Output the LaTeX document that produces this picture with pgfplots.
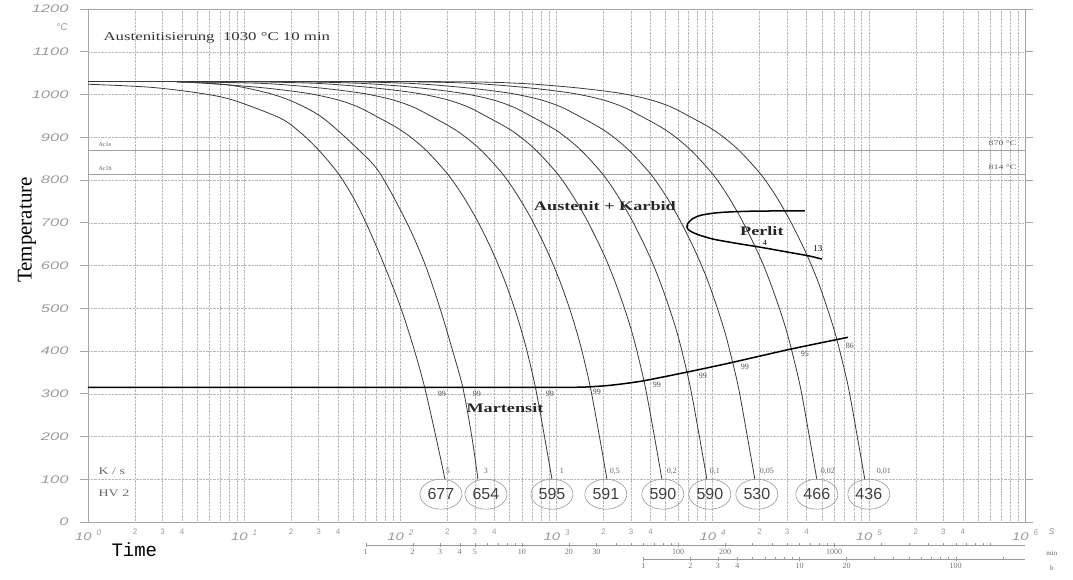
\documentclass[border=0pt]{standalone}
\usepackage{fontspec}
\setmainfont{Liberation Serif}
\setsansfont{Liberation Sans}
\setmonofont{Liberation Mono}
\usepackage{graphicx}
\usepackage{pgfplots}
\pgfplotsset{compat=1.18}
\usetikzlibrary{shapes.geometric}
\definecolor{curve}{HTML}{3A3A3A}
\definecolor{tl}{HTML}{9A9A9A}
\newcommand{\xt}[1]{\scalebox{1.35}[1]{\textit{10}}\hspace{5pt}\raisebox{5pt}{\fontsize{8}{9}\selectfont\textit{#1}}}
\newcommand{\st}[1]{\scalebox{1.4}[1]{#1}}
\begin{document}
\begin{tikzpicture}
\useasboundingbox (-88pt,-58pt) rectangle (985pt,522pt);
\begin{axis}[
 at={(0pt,0pt)}, anchor=south west,
 scale only axis, width=937pt, height=513pt,
 xmin=0, xmax=6, ymin=0, ymax=1200,
 clip=false,
 xtick={0,1,2,3,4,5,6},
 xticklabels={\xt{0},\xt{1},\xt{2},\xt{3},\xt{4},\xt{5},\xt{6}},
 minor xtick={0.30103,0.47712,0.60206,0.69897,0.77815,0.84510,0.90309,0.95424,
 1.30103,1.47712,1.60206,1.69897,1.77815,1.84510,1.90309,1.95424,
 2.30103,2.47712,2.60206,2.69897,2.77815,2.84510,2.90309,2.95424,
 3.30103,3.47712,3.60206,3.69897,3.77815,3.84510,3.90309,3.95424,
 4.30103,4.47712,4.60206,4.69897,4.77815,4.84510,4.90309,4.95424,
 5.30103,5.47712,5.60206,5.69897,5.77815,5.84510,5.90309,5.95424},
 ytick={0,100,...,1200},
 yticklabel={\scalebox{1.5}[1]{\pgfmathparse{int(\tick)}\pgfmathresult}},
 grid=both,
 major grid style={densely dotted, gray!55},
 minor grid style={densely dotted, gray!55},
 axis line style={gray!70, line width=0.9pt},
 xtick style={draw=none},
 ytick style={gray!70, line width=0.8pt},
 ytick align=outside, xtick align=inside,
 major tick length=8pt,
 ticklabel style={font=\sffamily\itshape\fontsize{11}{12}\selectfont, text=tl},
 xticklabel style={yshift=-4pt},
 yticklabel style={xshift=-8pt},
 extra x ticks={0.30103,0.47712,0.60206,1.30103,1.47712,1.60206,2.30103,2.47712,2.60206,3.30103,3.47712,3.60206,4.30103,4.47712,4.60206,5.30103,5.47712,5.60206},
 extra x tick labels={2,3,4,2,3,4,2,3,4,2,3,4,2,3,4,2,3,4},
 extra x tick style={grid=none, xticklabel style={font=\sffamily\fontsize{8}{9}\selectfont, yshift=1pt}},
 ylabel={\fontsize{21}{24}\selectfont Temperature},
 every axis y label/.style={at={(axis description cs:-0.065,0.569)}, rotate=90, anchor=center},
]
% Ac lines
\addplot[gray!75, line width=0.8pt] coordinates {(0,870) (6,870)};
\addplot[gray!75, line width=0.8pt] coordinates {(0,814) (6,814)};
% austenitizing
\addplot[curve, line width=0.6pt] coordinates {(0,1030) (0.570,1030)};
% cooling curves
\addplot[curve, line width=0.8pt, smooth, tension=0.5] coordinates {(0,1024) (0.397,1017) (0.717,1003) (0.928,987) (1.229,945) (1.357,912) (1.472,872) (1.601,816) (1.697,760) (1.780,700) (1.889,608) (2.004,500) (2.093,398) (2.157,313) (2.228,199) (2.286,100)};
\addplot[curve, line width=0.8pt, smooth, tension=0.5] coordinates {(0.570,1030) (0.909,1022) (1.229,995) (1.485,950) (1.729,872) (1.869,816) (2.042,700) (2.158,603) (2.254,500) (2.337,398) (2.401,313) (2.458,199) (2.497,100)};
\addplot[curve, line width=0.8pt, smooth, tension=0.5] coordinates {(0.570,1030) (0.762,1026) (1.114,1016) (1.402,1003) (1.594,988) (1.722,972) (1.831,952) (2.010,915) (2.158,872) (2.298,816) (2.388,770) (2.478,715) (2.555,660) (2.615,612) (2.673,560) (2.731,500) (2.775,448) (2.811,400) (2.865,315) (2.923,200) (2.971,100)};
\addplot[curve, line width=0.8pt, smooth, tension=0.5] coordinates {(0.570,1030) (1.114,1026) (1.466,1016) (1.754,1003) (1.946,988) (2.074,972) (2.183,952) (2.362,915) (2.510,872) (2.651,816) (2.740,770) (2.830,715) (2.907,660) (2.967,612) (3.025,560) (3.083,500) (3.127,448) (3.163,400) (3.217,315) (3.275,200) (3.323,100)};
\addplot[curve, line width=0.8pt, smooth, tension=0.5] coordinates {(0.570,1030) (0.986,1030) (1.466,1026) (1.818,1016) (2.106,1003) (2.298,988) (2.426,972) (2.535,952) (2.715,915) (2.862,872) (3.003,816) (3.092,770) (3.182,715) (3.259,660) (3.320,612) (3.377,560) (3.435,500) (3.480,448) (3.515,400) (3.569,315) (3.627,200) (3.675,100)};
\addplot[curve, line width=0.8pt, smooth, tension=0.5] coordinates {(0.570,1030) (1.274,1030) (1.754,1026) (2.106,1016) (2.394,1003) (2.587,988) (2.715,972) (2.823,952) (3.003,915) (3.150,872) (3.291,816) (3.380,770) (3.470,715) (3.547,660) (3.608,612) (3.665,560) (3.723,500) (3.768,448) (3.803,400) (3.857,315) (3.915,200) (3.963,100)};
\addplot[curve, line width=0.8pt, smooth, tension=0.5] coordinates {(0.570,1030) (1.581,1030) (2.062,1026) (2.414,1016) (2.702,1003) (2.894,988) (3.022,972) (3.131,952) (3.310,915) (3.457,872) (3.598,816) (3.688,770) (3.777,715) (3.854,660) (3.915,612) (3.973,560) (4.030,500) (4.075,448) (4.110,400) (4.165,315) (4.222,200) (4.270,100)};
\addplot[curve, line width=0.8pt, smooth, tension=0.5] coordinates {(0.570,1030) (1.978,1030) (2.458,1026) (2.811,1016) (3.099,1003) (3.291,988) (3.419,972) (3.528,952) (3.707,915) (3.854,872) (3.995,816) (4.085,770) (4.174,715) (4.251,660) (4.312,612) (4.369,560) (4.427,500) (4.472,448) (4.507,400) (4.562,315) (4.619,200) (4.667,100)};
\addplot[curve, line width=0.8pt, smooth, tension=0.5] coordinates {(0.570,1030) (2.286,1030) (2.766,1026) (3.118,1016) (3.406,1003) (3.598,988) (3.726,972) (3.835,952) (4.014,915) (4.161,872) (4.302,816) (4.392,770) (4.481,715) (4.558,660) (4.619,612) (4.677,560) (4.734,500) (4.779,448) (4.814,400) (4.869,315) (4.926,200) (4.974,100)};
% Martensite start
\addplot[black, line width=1.5pt, smooth, tension=0.4] coordinates {(0,315) (1.5,315) (2.9,315) (3.169,315.5) (3.35,320) (3.553,330) (3.854,352) (4.11,372) (4.494,404) (4.866,432)};
% Perlite
\addplot[black, line width=1.5pt, smooth, tension=0.5] coordinates {(4.590,728) (4.250,727) (4.050,724) (3.930,718) (3.870,709) (3.840,698) (3.835,690) (3.850,682) (3.900,673) (4.000,662) (4.150,652) (4.302,643) (4.470,632) (4.622,622) (4.699,615)};
% hardness ellipses
\addplot[only marks, mark=none, point meta=explicit symbolic, nodes near coords,
  every node near coord/.append style={ellipse, draw=gray!80, line width=0.6pt, minimum width=42pt, minimum height=30pt, inner sep=0pt, font=\sffamily\fontsize{16}{17}\selectfont, text=black!75, anchor=center}]
 table[meta=hv] {
L T hv
2.260 65 677
2.548 65 654
2.971 65 595
3.316 65 591
3.681 65 590
3.982 65 590
4.283 65 530
4.667 65 466
5.000 65 436
};
% cooling rates
\addplot[only marks, mark=none, point meta=explicit symbolic, nodes near coords,
  every node near coord/.append style={font=\fontsize{8}{9}\selectfont, text=black!60, anchor=center}]
 table[meta=r] {
L T r
2.305 119 5
2.548 119 3
3.035 119 1
3.374 119 0,5
3.739 119 0,2
4.014 119 0,1
4.347 119 0,05
4.738 119 0,02
5.096 119 0,01
};
% martensite fractions
\addplot[only marks, mark=none, point meta=explicit symbolic, nodes near coords,
  every node near coord/.append style={font=\fontsize{8}{9}\selectfont, text=black!70, anchor=center}]
 table[meta=m] {
L T m
2.266 299 99
2.490 299 99
2.958 299 99
3.259 304 99
3.643 320 99
3.937 342 99
4.206 363 99
4.590 393 95
4.878 412 86
};
\node[anchor=west, font=\fontsize{12}{14}\selectfont, text=black!80] at (axis cs:0.077,1132) {\st{Austenitisierung\ \ 1030 °C 10 min}};
\node[font=\bfseries\fontsize{13}{15}\selectfont, text=black!85] at (axis cs:3.310,739) {\st{Austenit + Karbid}};
\node[font=\bfseries\fontsize{13}{15}\selectfont, text=black!85] at (axis cs:4.315,681) {\st{Perlit}};
\node[font=\bfseries\fontsize{13}{15}\selectfont, text=black!85] at (axis cs:2.670,267) {\st{Martensit}};
\node[font=\fontsize{8}{9}\selectfont] at (axis cs:4.334,653) {4};
\node[font=\fontsize{9}{10}\selectfont] at (axis cs:4.674,639) {13};
\node[anchor=west, font=\fontsize{6}{7}\selectfont, text=black!65] at (axis cs:0.045,882) {Ac1e};
\node[anchor=west, font=\fontsize{6}{7}\selectfont, text=black!65] at (axis cs:0.045,828) {Ac1b};
\node[anchor=east, font=\fontsize{7}{8}\selectfont, text=black!65] at (axis cs:5.967,887) {\st{870 °C}};
\node[anchor=east, font=\fontsize{7}{8}\selectfont, text=black!65] at (axis cs:5.967,830) {\st{814 °C}};
\node[anchor=west, font=\fontsize{10}{11}\selectfont, text=black!60] at (axis cs:0.045,119) {\st{K / s}};
\node[anchor=west, font=\fontsize{10}{11}\selectfont, text=black!60] at (axis cs:0.045,68) {\st{HV 2}};
\node[font=\sffamily\itshape\fontsize{10}{11}\selectfont, text=tl] at (axis cs:-0.166,1158) {°C};
\node[anchor=west, font=\ttfamily\fontsize{19}{21}\selectfont] at (axis cs:0.128,-65.5) {Time};
\node[font=\sffamily\itshape\fontsize{11}{12}\selectfont, text=tl] at (axis cs:6.172,-23.4) {s};
\node[font=\fontsize{7}{8}\selectfont, text=black!60] at (axis cs:6.172,-72.5) {min};
\node[font=\fontsize{7}{8}\selectfont, text=black!60] at (axis cs:6.172,-107.6) {h};
\end{axis}
% minutes scale
\begin{axis}[at={(277.7pt,-23pt)}, anchor=south west, scale only axis, width=659.3pt, height=1pt,
 xmode=log, xmin=1, xmax=16666.67, ymin=0, ymax=1,
 axis x line=bottom, axis y line=none, axis line style={-, gray!80, line width=0.7pt}, x axis line style={-},
 xtick={1,2,3,4,5,10,20,30,100,200,1000}, xticklabels={1,2,3,4,5,10,20,30,100,200,1000},
 minor xtick={6,7,8,9,40,50,60,70,80,90,300,400,500,600,700,800,900,2000,3000,4000,5000,6000,7000,8000,9000,10000},
 tick align=center, major tick length=4pt, minor tick length=3pt, tick style={gray!80},
 ticklabel style={font=\fontsize{8}{9}\selectfont, text=black!55}, xticklabel style={yshift=1pt}]
\addplot[draw=none] coordinates {(1,0)};
\end{axis}
% hours scale
\begin{axis}[at={(555.4pt,-37pt)}, anchor=south west, scale only axis, width=381.6pt, height=1pt,
 xmode=log, xmin=1, xmax=277.78, ymin=0, ymax=1,
 axis x line=bottom, axis y line=none, axis line style={-, gray!80, line width=0.7pt}, x axis line style={-},
 xtick={1,2,3,4,10,20,100}, xticklabels={1,2,3,4,10,20,100},
 minor xtick={5,6,7,8,9,30,40,50,60,70,80,90,200},
 tick align=center, major tick length=4pt, minor tick length=3pt, tick style={gray!80},
 ticklabel style={font=\fontsize{8}{9}\selectfont, text=black!55}, xticklabel style={yshift=1pt}]
\addplot[draw=none] coordinates {(1,0)};
\end{axis}
\end{tikzpicture}
\end{document}
